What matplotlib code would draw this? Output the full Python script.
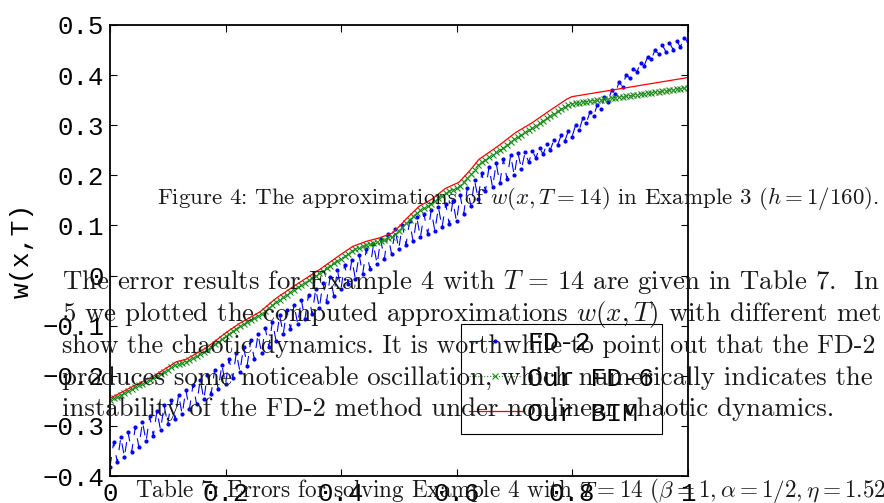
import numpy as np
import matplotlib
matplotlib.use("Agg")
import matplotlib.pyplot as plt

# grid used by the schemes, h = 1/160
n_points = 161

# FD-2 (oscillating)
fd2 = [-0.382, -0.333, -0.372, -0.323, -0.362, -0.313, -0.352, -0.303, -0.342, -0.292,
       -0.331, -0.281, -0.320, -0.270, -0.308, -0.259, -0.297, -0.248, -0.287, -0.238,
       -0.277, -0.228, -0.267, -0.218, -0.257, -0.208, -0.247, -0.198, -0.237, -0.188,
       -0.227, -0.178, -0.217, -0.167, -0.205, -0.154, -0.192, -0.142, -0.180, -0.129,
       -0.167, -0.117, -0.155, -0.104, -0.142, -0.092, -0.130, -0.079, -0.117, -0.068,
       -0.107, -0.058, -0.097, -0.048, -0.087, -0.038, -0.077, -0.027, -0.065, -0.014,
       -0.052, -0.002, -0.040, 0.011, -0.027, 0.022, -0.017, 0.032, -0.007, 0.042,
       0.003, 0.052, 0.013, 0.062, 0.023, 0.072, 0.033, 0.082, 0.043, 0.092,
       0.053, 0.101, 0.061, 0.108, 0.068, 0.116, 0.076, 0.123, 0.083, 0.130,
       0.089, 0.136, 0.096, 0.143, 0.102, 0.149, 0.108, 0.160, 0.123, 0.175,
       0.138, 0.190, 0.153, 0.205, 0.168, 0.216, 0.176, 0.224, 0.184, 0.232,
       0.192, 0.240, 0.200, 0.245, 0.213, 0.246, 0.226, 0.248, 0.235, 0.255,
       0.242, 0.262, 0.251, 0.271, 0.260, 0.280, 0.268, 0.289, 0.277, 0.300,
       0.291, 0.314, 0.305, 0.327, 0.318, 0.341, 0.332, 0.356, 0.347, 0.371,
       0.362, 0.386, 0.377, 0.401, 0.394, 0.412, 0.407, 0.425, 0.419, 0.437,
       0.432, 0.450, 0.442, 0.460, 0.447, 0.465, 0.451, 0.469, 0.456, 0.474,
       0.468]

# Our FD-6
fd6 = [-0.249, -0.245, -0.242, -0.238, -0.234, -0.230, -0.227, -0.223, -0.219, -0.216,
       -0.212, -0.209, -0.205, -0.200, -0.197, -0.192, -0.188, -0.183, -0.179, -0.176,
       -0.174, -0.172, -0.168, -0.164, -0.160, -0.156, -0.152, -0.148, -0.142, -0.137,
       -0.132, -0.127, -0.121, -0.116, -0.111, -0.106, -0.101, -0.097, -0.093, -0.089,
       -0.085, -0.081, -0.076, -0.071, -0.065, -0.059, -0.052, -0.048, -0.043, -0.038,
       -0.033, -0.028, -0.023, -0.019, -0.014, -0.009, -0.005, 0.000, 0.005, 0.010,
       0.015, 0.020, 0.025, 0.030, 0.034, 0.039, 0.044, 0.049, 0.052, 0.055,
       0.058, 0.060, 0.062, 0.064, 0.066, 0.068, 0.071, 0.074, 0.076, 0.082,
       0.089, 0.096, 0.104, 0.111, 0.118, 0.124, 0.131, 0.135, 0.139, 0.143,
       0.148, 0.154, 0.159, 0.165, 0.168, 0.171, 0.174, 0.179, 0.187, 0.194,
       0.202, 0.211, 0.220, 0.226, 0.231, 0.236, 0.241, 0.246, 0.251, 0.255,
       0.261, 0.267, 0.272, 0.277, 0.281, 0.286, 0.290, 0.294, 0.299, 0.304,
       0.309, 0.314, 0.319, 0.323, 0.328, 0.332, 0.337, 0.341, 0.343, 0.344,
       0.345, 0.346, 0.347, 0.348, 0.349, 0.350, 0.351, 0.352, 0.353, 0.354,
       0.355, 0.356, 0.357, 0.358, 0.359, 0.360, 0.361, 0.362, 0.363, 0.364,
       0.365, 0.366, 0.367, 0.368, 0.369, 0.370, 0.371, 0.372, 0.373, 0.374,
       0.375]

# Our BIM (solid line, read at the corners of the curve)
bim_x = [0.000, 0.040, 0.075, 0.115, 0.132, 0.167, 0.202, 0.225, 0.259, 0.288,
         0.311, 0.328, 0.363, 0.397, 0.420, 0.443, 0.466, 0.489, 0.501, 0.512,
         0.535, 0.558, 0.581, 0.604, 0.622, 0.639, 0.674, 0.702, 0.731, 0.760,
         0.791, 0.800, 1.000]
bim_y = [-0.245, -0.221, -0.201, -0.172, -0.167, -0.144, -0.113, -0.095, -0.073, -0.045,
         -0.027, -0.014, 0.012, 0.040, 0.058, 0.068, 0.075, 0.085, 0.098, 0.112,
         0.138, 0.153, 0.174, 0.186, 0.208, 0.232, 0.260, 0.285, 0.305, 0.328,
         0.352, 0.357, 0.395]

xticks = [0, 0.2, 0.4, 0.6, 0.8, 1]
xtick_labels = ['0', '0.2', '0.4', '0.6', '0.8', '1']
yticks = [-0.4, -0.3, -0.2, -0.1, 0, 0.1, 0.2, 0.3, 0.4, 0.5]
ytick_labels = ['\u22120.4', '\u22120.3', '\u22120.2', '\u22120.1', '0',
                '0.1', '0.2', '0.3', '0.4', '0.5']

x = np.linspace(0, 1, n_points)

plt.rcParams['font.family'] = 'Liberation Mono'
plt.rcParams['mathtext.fontset'] = 'cm'

W, H = 884, 503
fig = plt.figure(figsize=(W / 100, H / 100), dpi=100)
ax = fig.add_axes([110 / W, 27 / H, 577.5 / W, 451 / H])

ax.plot(x, fd2, color='blue', linestyle='--', dashes=(9, 8), linewidth=0.8,
        marker='.', markersize=4, label='FD-2')
ax.plot(x, fd6, color='#1a8c1a', linestyle=':', linewidth=0.8,
        marker='x', markersize=4.5, markeredgewidth=0.8, label='Our FD-6')
ax.plot(bim_x, bim_y, color='red', linewidth=0.9, label='Our BIM')

ax.set_xlim(0, 1)
ax.set_ylim(-0.4, 0.5)
ax.set_xticks(xticks)
ax.set_xticklabels(xtick_labels)
ax.set_yticks(yticks)
ax.set_yticklabels(ytick_labels)
ax.tick_params(direction='in', length=5, width=0.8, top=True, right=True,
               labelsize=18.5, pad=4)
for s in ax.spines.values():
    s.set_linewidth(1.3)
ax.set_ylabel('w(x,T)', fontsize=19, labelpad=6)

leg = ax.legend(loc='upper left', bbox_to_anchor=(0.608, 0.338), borderaxespad=0,
                fontsize=19, fancybox=False, edgecolor='black', framealpha=1,
                handlelength=2.0, handletextpad=0.2, labelspacing=0.42,
                borderpad=0.3)
leg.get_frame().set_linewidth(0.8)

# page text that sits over the figure
serif = dict(fontfamily='cmr10', color='#1a1a1a')
fig.text(157 / W, 1 - 204 / H,
         'Figure 4: The approximations of $w(x,T = 14)$ in Example 3 ($h = 1/160$).',
         fontsize=16.5, va='baseline', **serif)
lines = [
    'The error results for Example 4 with $T\\,=\\,14$ are given in Table 7.  In',
    '5 we plotted the computed approximations $w(x,T)$ with different met',
    'show the chaotic dynamics. It is worthwhile to point out that the FD-2',
    'produces some noticeable oscillation, which numerically indicates the',
    'instability of the FD-2 method under nonlinear chaotic dynamics.',
]
line_sizes = [19.3, 19.3, 18.7, 19.3, 19.3]
baselines = [289, 321.5, 353, 385, 416]
for txt, fs, yb in zip(lines, line_sizes, baselines):
    fig.text(62 / W, 1 - yb / H, txt, fontsize=fs, va='baseline', **serif)
fig.text(135 / W, 1 - 497 / H,
         'Table 7: Errors for solving Example 4 with $T = 14$ '
         '($\\beta = 1, \\alpha = 1/2, \\eta = 1.52$',
         fontsize=16.7, va='baseline', **serif)

fig.savefig('out.png', dpi=100)
